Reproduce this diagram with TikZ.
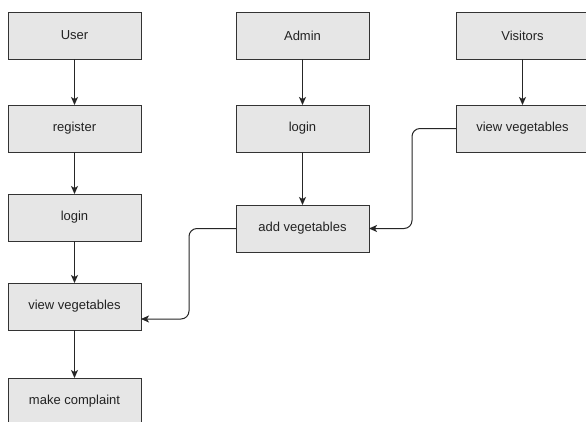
\documentclass[tikz,border=0pt]{standalone}
\usepackage{fontspec}
\setmainfont{Liberation Sans}
\usetikzlibrary{arrows.meta}
\definecolor{boxfill}{HTML}{E6E6E6}
\definecolor{boxline}{HTML}{333333}
\definecolor{txt}{HTML}{222222}
\tikzset{
  box/.style={draw=boxline, fill=boxfill, line width=1pt, minimum width=133pt, minimum height=47pt,
    inner sep=0pt, outer sep=0pt, text=txt, font=\fontsize{13}{15}\selectfont},
  arr/.style={draw=black!85, line width=1pt, -{Stealth[length=8pt,width=7pt,inset=2pt]}},
}
\begin{document}
\begin{tikzpicture}[x=1pt,y=-1pt]
\useasboundingbox (0,0) rectangle (586,421);
\fill[white] (0,0) rectangle (586,421);
% left column
\node[box] (user) at (74.5,35.5) {User};
\node[box] (register) at (74.5,128.5) {register};
\node[box] (ulogin) at (74.5,217.5) {login};
\node[box] (uview) at (74.5,306.5) {view vegetables};
\node[box] (complaint) at (74.5,401.5) {make complaint};
% middle column
\node[box] (admin) at (302.5,35.5) {Admin};
\node[box] (alogin) at (302.5,128.5) {login};
\node[box] (addveg) at (302.5,228.5) {add vegetables};
% right column
\node[box] (visitors) at (522.5,35.5) {Visitors};
\node[box] (vview) at (522.5,128.5) {view vegetables};
% connectors
\draw[arr] (user) -- (register);
\draw[arr] (register) -- (ulogin);
\draw[arr] (ulogin) -- (uview);
\draw[arr] (uview) -- (complaint);
\draw[arr] (admin) -- (alogin);
\draw[arr] (alogin) -- (addveg);
\draw[arr] (visitors) -- (vview);
\draw[arr, rounded corners=8pt] (vview.west) -- ++(-44,0) |- (addveg.east);
\coordinate (uin) at ([yshift=-12.5pt]uview.east);
\draw[arr, rounded corners=8pt] (addveg.west) -- ++(-47,0) |- (uin);
\end{tikzpicture}
\end{document}
